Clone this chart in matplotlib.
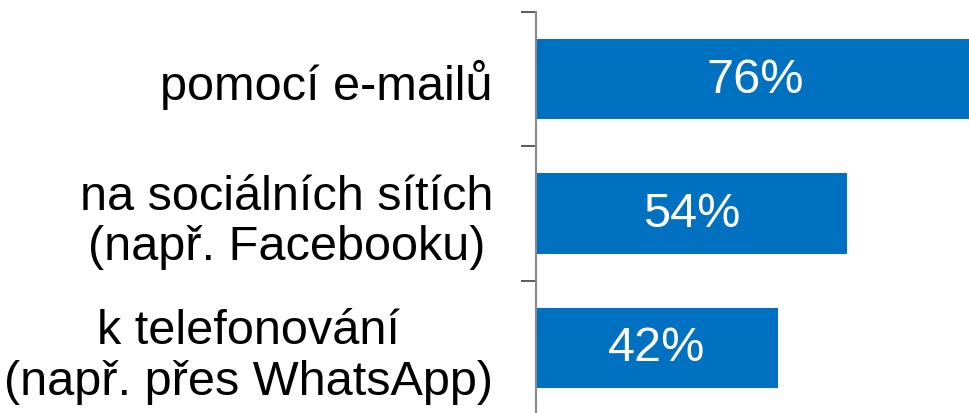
import matplotlib
matplotlib.use("Agg")
import matplotlib.pyplot as plt
import numpy as np

categories = ["pomocí e-mailů",
              "na sociálních sítích\n(např. Facebooku)",
              "k telefonování\n(např. přes WhatsApp)"]
values = [76, 54, 42]
labels = ["76%", "54%", "42%"]

plt.rcParams['font.family'] = ['Liberation Sans', 'DejaVu Sans']

fig = plt.figure(figsize=(9.7, 4.14), dpi=100)
ax = fig.add_axes([536/970, -2/414, 434/970, 403/414])

y = np.arange(len(categories))
bars = ax.barh(y, values, height=0.6, color="#0070C0")

for b, lab in zip(bars, labels):
    ax.text(b.get_width() / 2, b.get_y() + b.get_height() / 2, lab,
            ha="center", va="center", color="white", fontsize=35)

ax.set_xlim(0, 75.3)
ax.set_ylim(len(categories) - 0.5, -0.5)

ax.set_yticks(y)
ax.set_yticklabels(categories, fontsize=35, ha="right", linespacing=1.17,
                   multialignment="center")
ax.tick_params(axis="y", which="major", length=0, pad=31)
ax.set_yticks(np.arange(len(categories) + 1) - 0.5, minor=True)
ax.tick_params(axis="y", which="minor", length=11, width=1.2, color="#404040")

ax.set_xticks([])
for s in ["top", "right", "bottom"]:
    ax.spines[s].set_visible(False)
ax.spines["left"].set_color("#888888")
ax.spines["left"].set_linewidth(1.5)

fig.savefig("out.png", dpi=100)
